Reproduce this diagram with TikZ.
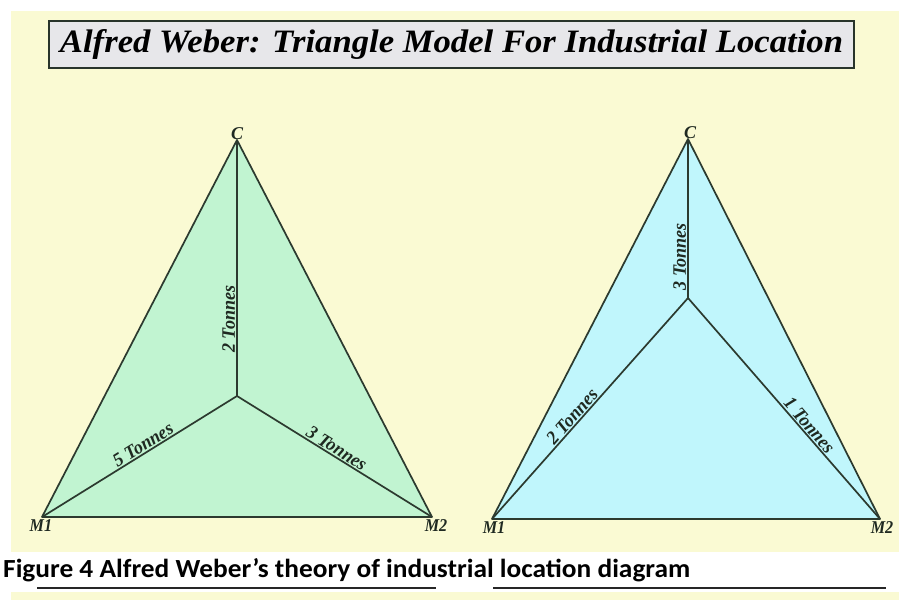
\documentclass[tikz,border=0pt]{standalone}
\usepackage{fontspec}
\setmainfont{Liberation Serif}
\newfontfamily\captionFont{Carlito}
\usepackage{graphicx}
\usetikzlibrary{positioning,calc}

\definecolor{bgYellow}{HTML}{FAFAD3}
\definecolor{mintFill}{HTML}{C1F4D1}
\definecolor{skyFill}{HTML}{C0F6FC}
\definecolor{edgeCol}{HTML}{2C3A2F}
\definecolor{titleFill}{HTML}{E7E7EA}

\begin{document}
\begin{tikzpicture}[
    x=1pt, y=-1pt,
    titleBox/.style={
        rectangle, draw=edgeCol!90!black, line width=2.4pt, fill=titleFill,
        minimum width=805pt, minimum height=47pt, inner sep=0pt
    },
    triLine/.style={
        draw=edgeCol, line width=1.7pt, line join=round
    },
    tonLabel/.style={
        font=\fontsize{19}{20}\selectfont\bfseries\itshape, text=edgeCol!70!black,
        inner sep=1pt, sloped, above
    },
    ptLabel/.style={
        font=\fontsize{18}{19}\selectfont\bfseries\itshape, text=edgeCol!70!black,
        inner sep=0.5pt
    },
    capRule/.style={
        draw=black!85, line width=1.3pt
    }
]
\useasboundingbox (0,0) rectangle (899,600);

% Background
\fill[bgYellow] (11,11) rectangle (899,600);
\fill[white] (0,552) rectangle (899,592);

% Title
\node[titleBox] (title) at (451.5,44.5) {%
    \resizebox{783pt}{23pt}{\bfseries\itshape Alfred Weber: Triangle Model For Industrial Location}};

% Left triangle: points
\coordinate (lM1) at (42,517);
\coordinate (lM2) at (432,517);
\coordinate (lC) at (237,140);
\coordinate (lP) at (237,396);

\fill[mintFill] (lM1) -- (lM2) -- (lC) -- cycle;
\draw[triLine] (lM1) -- (lM2) -- (lC) -- cycle;
\draw[triLine] (lP) -- node[tonLabel, pos=0.30] {\scalebox{0.95}[1]{2 Tonnes}} (lC);
\draw[triLine] (lM1) -- node[tonLabel, pos=0.54] {\scalebox{0.95}[1]{5 Tonnes}} (lP);
\draw[triLine] (lP) -- node[tonLabel, pos=0.49] {\scalebox{0.95}[1]{3 Tonnes}} (lM2);

\node[ptLabel, above=0pt of lC] (lCtxt) {C};
\node[ptLabel, below=2pt of lM1, xshift=-1pt] (lM1txt) {\scalebox{0.9}[1]{M1}};
\node[ptLabel, below=2pt of lM2, xshift=4pt] (lM2txt) {\scalebox{0.9}[1]{M2}};

% Right triangle: points
\coordinate (rM1) at (492,519);
\coordinate (rM2) at (880,519);
\coordinate (rC) at (688,139);
\coordinate (rP) at (688,298);

\fill[skyFill] (rM1) -- (rM2) -- (rC) -- cycle;
\draw[triLine] (rM1) -- (rM2) -- (rC) -- cycle;
\draw[triLine] (rP) -- node[tonLabel, pos=0.26] {\scalebox{0.95}[1]{3 Tonnes}} (rC);
\draw[triLine] (rM1) -- node[tonLabel, pos=0.44] {\scalebox{0.95}[1]{2 Tonnes}} (rP);
\draw[triLine] (rP) -- node[tonLabel, pos=0.60] {\scalebox{0.95}[1]{1 Tonnes}} (rM2);

\node[ptLabel, above=0pt of rC, xshift=2pt] (rCtxt) {C};
\node[ptLabel, below=2pt of rM1, xshift=2pt] (rM1txt) {\scalebox{0.9}[1]{M1}};
\node[ptLabel, below=2pt of rM2, xshift=2pt] (rM2txt) {\scalebox{0.9}[1]{M2}};

% Caption
\node[anchor=base west, inner sep=0pt] (caption) at (3,577) {%
    \resizebox{687pt}{19pt}{\captionFont\bfseries Figure 4 Alfred Weber’s theory of industrial location diagram}};
\draw[capRule] (37,588) -- (436,588);
\draw[capRule] (493,588) -- (886,588);

\end{tikzpicture}
\end{document}
